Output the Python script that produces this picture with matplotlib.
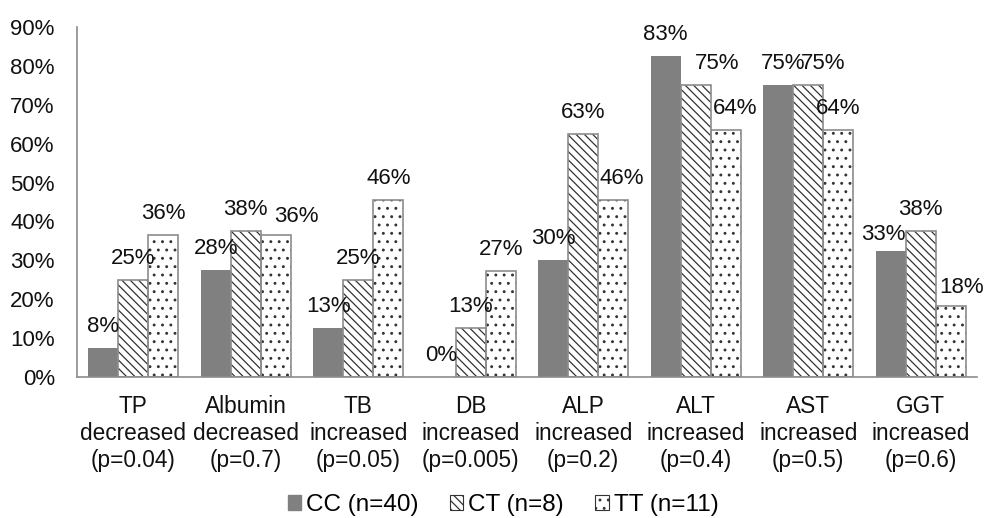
import math
import matplotlib
matplotlib.use("Agg")
import matplotlib.pyplot as plt
import numpy as np
from matplotlib.patches import Patch

plt.rcParams['font.family'] = ['Liberation Sans', 'DejaVu Sans']
plt.rcParams['hatch.linewidth'] = 0.9

categories = ["TP\ndecreased\n(p=0.04)", "Albumin\ndecreased\n(p=0.7)", "TB\nincreased\n(p=0.05)",
              "DB\nincreased\n(p=0.005)", "ALP\nincreased\n(p=0.2)", "ALT\nincreased\n(p=0.4)",
              "AST\nincreased\n(p=0.5)", "GGT\nincreased\n(p=0.6)"]
series_names = ["CC (n=40)", "CT (n=8)", "TT (n=11)"]
cc = [7.5, 27.5, 12.5, 0.0, 30.0, 82.5, 75.0, 32.5]
ct = [25.0, 37.5, 25.0, 12.5, 62.5, 75.0, 75.0, 37.5]
tt = [36.4, 36.4, 45.5, 27.3, 45.5, 63.6, 63.6, 18.2]
yticks = [0, 10, 20, 30, 40, 50, 60, 70, 80, 90]

# label nudges (pixels) as placed in the reference
dx_cc = [0, 0, 0, 0, 0, 0, 5, -7]
dx_ct = [0, 0, 0, 0, 0, 21, 15, 0]
dx_tt = [0, 21, 0, 0, 8, 9, 0, 11]
dy_cc = [0, 0, 0, 0, 0, 0, 0, -5]
dy_ct = [0, 0, 0, 0, 0, 0, 0, 0]
dy_tt = [0, -3, 0, 0, 0, 0, 0, -3]

edge = "#8c8c8c"
fig = plt.figure(figsize=(9.86, 5.18), dpi=100)
ax = fig.add_axes([77/986, 1-377/518, 900/986, 350/518])

x = np.arange(len(categories))
w = 0.267
styles = [dict(color="#808080", hatch=None), dict(color="white", hatch="\\\\\\\\"), dict(color="white", hatch="..")]
px2pt = 72 / 100
for i, (vals, st, dxs, dys) in enumerate(zip([cc, ct, tt], styles, [dx_cc, dx_ct, dx_tt], [dy_cc, dy_ct, dy_tt])):
    pos = x + (i - 1) * w
    if st["hatch"]:
        ax.bar(pos, vals, w, facecolor="white", edgecolor="#333333", hatch=st["hatch"], linewidth=0, zorder=2)
        ax.bar(pos, vals, w, fill=False, edgecolor=edge, linewidth=1.2, zorder=3)
    else:
        ax.bar(pos, vals, w, color=st["color"], linewidth=0, zorder=2)
    for p, v, ddx, ddy in zip(pos, vals, dxs, dys):
        ax.annotate(f"{math.floor(v + 0.5)}%", (p, v), xytext=(ddx * px2pt, 8 + ddy * px2pt),
                    textcoords="offset points", ha="center", va="bottom", fontsize=16, color="#111111",
                    zorder=4)

ax.set_xlim(-0.5, len(categories) - 0.5)
ax.set_ylim(0, 90)
ax.set_yticks(yticks)
ax.set_yticklabels([f"{t}%" for t in yticks], fontsize=16, color="#111111")
ax.set_xticks(x)
ax.set_xticklabels(categories, fontsize=16.3, color="#111111", linespacing=1.22)
ax.tick_params(axis="y", length=0, pad=16)
ax.tick_params(axis="x", length=0, pad=13)
for s in ["top", "right"]:
    ax.spines[s].set_visible(False)
for s in ["left", "bottom"]:
    ax.spines[s].set_color(edge)
    ax.spines[s].set_linewidth(1.2)

handles = [Patch(facecolor="#808080", edgecolor="#808080"),
           Patch(facecolor="white", edgecolor="#333333", hatch="\\\\\\\\", linewidth=0.8),
           Patch(facecolor="white", edgecolor="#333333", hatch="..", linewidth=0.8)]
fig.legend(handles, series_names, loc="center", bbox_to_anchor=(503/986, 1-505/518), ncol=3,
           frameon=False, fontsize=17.5, handlelength=0.55, handleheight=0.55, handletextpad=0.2,
           columnspacing=1.3, borderpad=0, borderaxespad=0)

fig.savefig("out.png", dpi=100)
